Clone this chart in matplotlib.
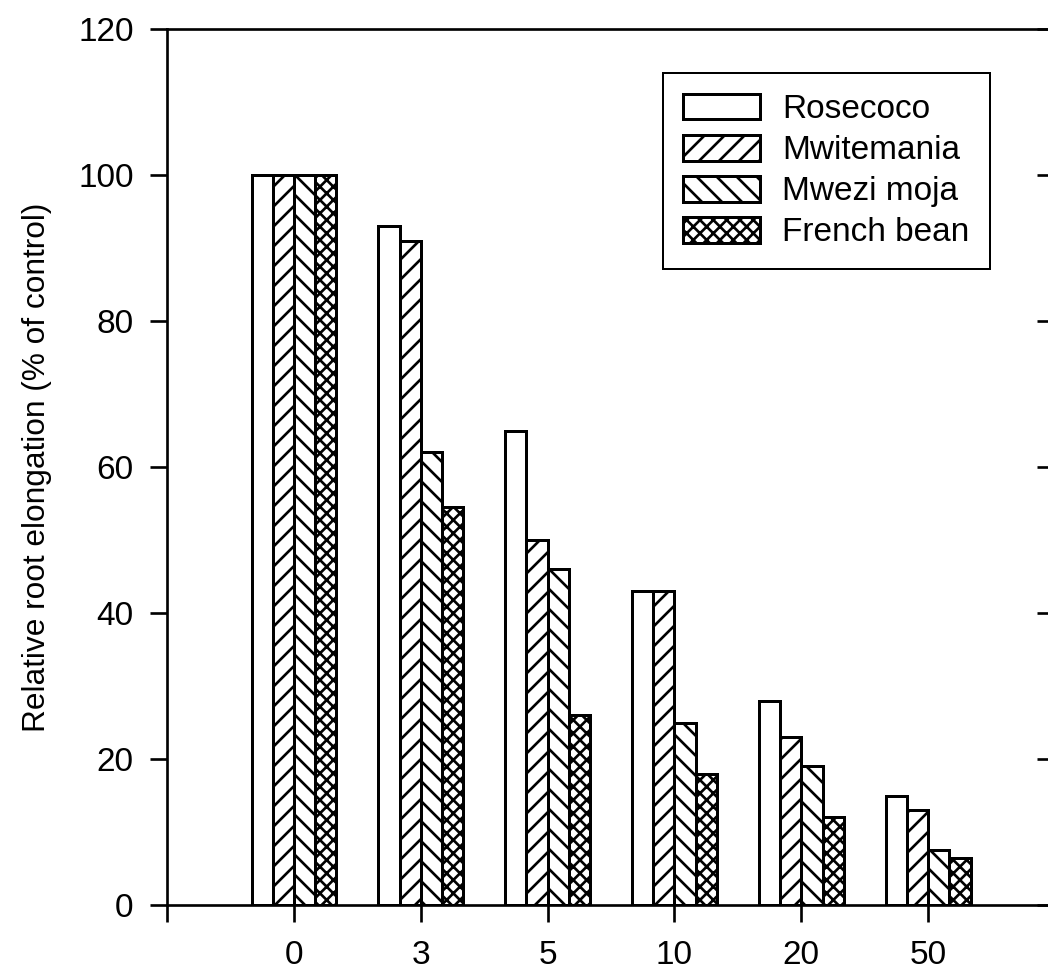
import numpy as np
import matplotlib
matplotlib.use('Agg')
import matplotlib.pyplot as plt

plt.rcParams['font.family'] = ['Liberation Sans', 'DejaVu Sans']
plt.rcParams['hatch.linewidth'] = 1.6

# data
doses = ['0', '3', '5', '10', '20', '50']
rosecoco = [100, 93, 65, 43, 28, 15]
mwitemania = [100, 91, 50, 43, 23, 13]
mwezi_moja = [100, 62, 46, 25, 19, 7.5]
french_bean = [100, 54.5, 26, 18, 12, 6.5]

series = [rosecoco, mwitemania, mwezi_moja, french_bean]
names = ['Rosecoco', 'Mwitemania', 'Mwezi moja', 'French bean']
hatches = ['', '//', '\\\\', 'xxx']

fig = plt.figure(figsize=(1048 / 120, 972 / 120), dpi=120)
ax = fig.add_axes([0.1594, 0.0689, 0.8473, 0.9012])

x = np.arange(1, len(doses) + 1)
w = 0.167
for k, (vals, name, h) in enumerate(zip(series, names, hatches)):
    ax.bar(x + (k - 1.5) * w, vals, w, facecolor='white', edgecolor='black',
           linewidth=1.8, hatch=h, label=name)

ax.set_xlim(0, 7)
ax.set_ylim(0, 120)
ax.set_xticks(np.arange(0, 8))
ax.set_xticklabels([''] + doses + [''])
ax.set_yticks(np.arange(0, 121, 20))

for s in ['left', 'bottom', 'top']:
    ax.spines[s].set_linewidth(1.6)
ax.spines['right'].set_visible(False)

ax.tick_params(axis='x', direction='out', length=10, width=1.6, pad=11, labelsize=20)
ax.tick_params(axis='y', direction='out', length=10, width=1.6, pad=10, labelsize=20)

# inward ticks on the (off-picture) right edge
ax2 = ax.twinx()
ax2.set_ylim(0, 120)
ax2.set_yticks(np.arange(0, 121, 20))
ax2.tick_params(axis='y', direction='in', length=11, width=1.6, labelright=False)
for s in ax2.spines.values():
    s.set_visible(False)

ax.set_ylabel('Relative root elongation (% of control)', fontsize=19, labelpad=16)

leg = ax.legend(loc='upper right', bbox_to_anchor=(0.9268, 0.9498), borderaxespad=0,
                fancybox=False, edgecolor='black', fontsize=20, handlelength=2.3,
                handleheight=0.81, labelspacing=0.29, handletextpad=0.66,
                borderpad=0.62, framealpha=1)
leg.get_frame().set_linewidth(1.2)

fig.savefig('out.png', dpi=120)
